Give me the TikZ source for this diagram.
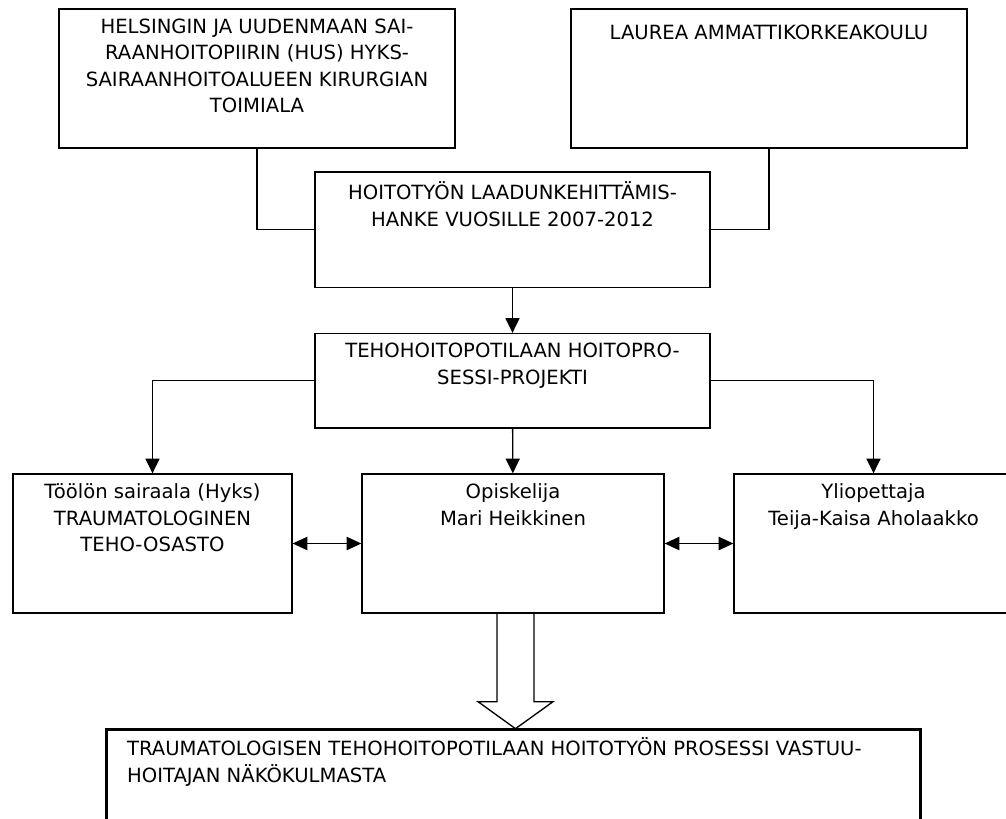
\documentclass[tikz,border=0pt]{standalone}
\usepackage{fontspec}
\setmainfont{DejaVu Sans}
\usetikzlibrary{arrows.meta}
\usetikzlibrary{fit}

\begin{document}
\begin{tikzpicture}[x=0.75pt,y=-0.75pt,line width=1pt,
    kasti/.style={draw,inner sep=0pt},
    teksti/.style={anchor=north,align=center,inner sep=0pt,font={\fontsize{14.7pt}{19.8pt}\selectfont},
        execute at begin node={\rule{0pt}{15.5pt}}},
    nuoli/.style={-{Triangle[length=11pt,width=10.5pt]}},
    kaksinuoli/.style={{Triangle[length=11pt,width=10pt]}-{Triangle[length=11pt,width=10pt]}}]
    \useasboundingbox (0,0) rectangle (1006,818);
    \node[kasti,fit={(59,9) (455,148)}] (hus) {};
    \node[kasti,fit={(571,9) (967,148)}] (laurea) {};
    \node[kasti,fit={(315,172) (710,287.5)}] (hanke) {};
    \node[kasti,fit={(315,333.5) (710,428)}] (teho) {};
    \node[kasti,fit={(13,474) (292,613)}] (toolo) {};
    \node[kasti,fit={(362,474) (664,613)}] (opisk) {};
    \node[kasti,fit={(734,474) (1013,613)}] (yliop) {};
    \node[kasti,line width=2.25pt,fit={(106,729) (920,880)}] (tulos) {};
    \node[teksti] (husT) at ([yshift=-7.4pt]hus.north) {HELSINGIN JA UUDENMAAN SAI-\\RAANHOITOPIIRIN (HUS) HYKS-\\SAIRAANHOITOALUEEN KIRURGIAN\\TOIMIALA};
    \node[teksti] (laureaT) at ([yshift=-7.4pt]laurea.north) {LAUREA AMMATTIKORKEAKOULU};
    \node[teksti] (hankeT) at ([yshift=-7.4pt]hanke.north) {HOITOTYÖN LAADUNKEHITTÄMIS-\\HANKE VUOSILLE 2007-2012};
    \node[teksti] (tehoT) at ([yshift=-7.4pt]teho.north) {TEHOHOITOPOTILAAN HOITOPRO-\\SESSI-PROJEKTI};
    \node[teksti] (tooloT) at ([yshift=-7.4pt]toolo.north) {Töölön sairaala (Hyks)\\TRAUMATOLOGINEN\\TEHO-OSASTO};
    \node[teksti] (opiskT) at ([yshift=-7.4pt]opisk.north) {Opiskelija\\Mari Heikkinen};
    \node[teksti] (yliopT) at ([yshift=-7.4pt]yliop.north) {Yliopettaja\\Teija-Kaisa Aholaakko};
    \node[teksti,anchor=north west,align=left] (tulosT) at ([xshift=16.5pt,yshift=-7.4pt]tulos.north west) {TRAUMATOLOGISEN TEHOHOITOPOTILAAN HOITOTYÖN PROSESSI VASTUU-\\HOITAJAN NÄKÖKULMASTA};
    \draw (hus.south) |- (hanke.west);
    \draw (laurea.south) |- (hanke.east);
    \draw (hanke) edge[nuoli] (teho);
    \draw[nuoli] (teho.west) -| (toolo.north);
    \draw[nuoli] (teho.east) -| (yliop.north);
    \draw (teho) edge[nuoli] (opisk);
    \draw (toolo.east) edge[kaksinuoli] (opisk.west);
    \draw (opisk.east) edge[kaksinuoli] (yliop.west);
    \draw (opisk.south) ++(-16,0) -- ++(0,88) -- ++(-19,0) -- ++(37.5,27) -- ++(37.5,-27) -- ++(-19,0) -- ++(0,-88);
\end{tikzpicture}
\end{document}
